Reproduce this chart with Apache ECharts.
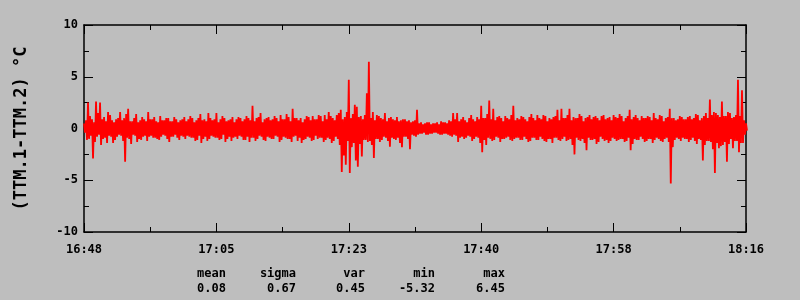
<!DOCTYPE html>
<html>
<head>
<meta charset="utf-8">
<script src="https://cdn.jsdelivr.net/npm/echarts@6/dist/echarts.min.js"></script>
<style>html,body{margin:0;padding:0;background:#bebebe;}#c{width:800px;height:300px;}</style>
</head>
<body>
<div id="c"></div>
<script>
// sample spacing (seconds) from 16:48 start
const startClock = [16, 48];
const sampleSeconds = 32;
// upper envelope per sample
const hiVals = [0.5,2.5,0.9,2.6,2.5,1.1,1.6,0.8,0.9,1.6,
1.0,1.9,0.7,1.4,0.8,0.9,1.6,0.9,0.7,1.2,
0.8,1.0,0.7,0.9,0.8,1.1,0.9,1.0,0.8,1.4,
0.9,1.5,0.8,1.5,0.9,1.0,0.8,1.1,0.9,1.0,
0.9,1.0,2.2,1.0,1.5,0.9,1.1,0.9,1.0,1.3,
0.9,1.1,1.9,1.0,1.0,0.9,1.1,1.2,0.9,1.2,
1.3,1.6,1.0,1.3,1.8,1.1,4.7,1.4,2.1,1.2,
1.3,6.45,1.6,1.3,1.0,1.5,1.0,0.9,1.1,0.8,
0.9,0.8,0.7,1.8,0.6,0.5,0.6,0.5,0.6,0.7,
0.6,0.8,1.5,1.5,0.9,0.8,1.0,0.9,1.1,2.2,
1.0,2.7,1.9,1.1,1.0,1.2,0.9,2.2,1.0,1.2,
0.9,1.1,1.0,1.3,0.9,1.2,1.0,1.1,1.8,1.9,
1.0,1.9,1.1,1.0,1.2,1.0,1.3,1.1,1.0,1.2,
0.9,1.1,1.3,1.0,1.2,1.0,1.8,1.1,1.0,1.2,
1.0,1.1,1.5,0.9,1.2,1.0,1.9,1.0,0.9,1.1,
0.9,1.2,1.0,1.3,1.0,1.5,2.8,1.6,1.3,2.6,
1.2,1.5,1.1,4.7,3.7,0.5];
// lower envelope per sample
const loVals = [-0.4,-1.0,-2.9,-0.8,-1.6,-0.9,-0.7,-1.4,-0.8,-0.7,
-3.2,-1.0,-0.6,-1.3,-1.1,-0.7,-0.8,-0.9,-1.0,-0.8,
-0.7,-1.3,-0.8,-0.9,-0.7,-1.0,-0.8,-0.9,-1.1,-1.4,
-0.8,-1.0,-0.8,-0.9,-1.0,-1.3,-0.8,-0.9,-1.0,-0.8,
-1.1,-1.3,-0.9,-1.0,-0.8,-1.2,-0.9,-1.0,-0.8,-1.1,
-0.9,-1.0,-0.8,-1.2,-1.4,-1.0,-0.9,-1.1,-1.0,-0.9,
-1.1,-1.0,-1.2,-1.0,-4.2,-3.5,-4.3,-1.4,-3.7,-2.7,
-1.1,-1.2,-2.85,-1.0,-1.1,-0.9,-1.75,-1.0,-0.9,-1.8,
-0.8,-2.0,-0.7,-0.6,-0.5,-0.6,-0.5,-0.4,-0.5,-0.6,
-0.5,-0.7,-0.6,-1.3,-0.8,-0.9,-0.8,-1.0,-0.9,-2.3,
-1.6,-1.0,-1.1,-0.9,-1.0,-0.9,-1.1,-1.0,-0.9,-1.1,
-1.0,-1.2,-0.9,-1.1,-1.0,-1.3,-1.0,-0.9,-1.1,-1.0,
-1.2,-1.0,-2.5,-1.1,-1.0,-2.1,-1.1,-1.0,-1.3,-1.0,
-1.1,-1.2,-1.0,-1.1,-1.0,-1.2,-2.1,-1.0,-1.1,-1.0,
-1.2,-1.0,-1.1,-1.0,-1.3,-0.9,-5.32,-1.1,-1.0,-0.9,
-1.0,-1.1,-1.2,-1.0,-3.1,-1.2,-1.3,-4.3,-1.9,-1.6,
-3.2,-1.0,-1.2,-2.3,-1.4,-0.2];
// upper / lower readings halfway between consecutive samples
const midHi = [0.8,1.2,0.6,1.5,0.9,0.7,1.3,0.6,1.0,0.8,
1.4,0.7,1.0,0.6,1.1,0.7,0.9,1.1,0.6,0.8,
1.0,0.7,1.1,0.6,0.9,0.7,1.2,0.6,1.0,0.8,
0.7,1.0,0.9,0.6,1.2,0.7,0.9,0.6,1.1,0.7,
1.2,0.8,0.7,1.1,0.6,1.0,0.8,1.2,0.7,0.9,
1.4,0.7,1.0,0.8,0.6,1.2,0.8,0.9,1.3,0.7,
0.9,1.2,0.8,1.5,0.9,1.6,1.0,2.3,1.1,0.9,
3.4,1.0,0.8,1.2,0.9,0.7,1.1,0.8,0.7,0.9,
0.7,0.6,0.8,0.5,0.4,0.6,0.4,0.5,0.4,0.6,
0.5,0.7,0.9,0.7,1.1,0.6,1.3,0.7,0.9,1.0,
1.4,0.9,0.8,1.2,0.7,1.0,1.3,0.8,0.9,1.1,
0.7,1.4,0.8,1.0,1.3,0.7,0.9,1.2,0.8,1.0,
1.3,0.8,1.0,1.4,0.7,1.1,0.9,1.2,0.8,1.3,
1.0,0.8,1.1,1.4,0.7,1.2,0.9,1.3,0.8,1.0,
1.2,0.8,1.0,1.3,0.7,1.1,1.0,0.8,1.2,0.9,
1.1,0.9,1.4,0.8,1.2,1.0,1.3,1.5,1.1,1.2,
1.6,1.0,1.3,1.2,0.8];
const midLo = [-1.1,-0.7,-1.3,-0.6,-1.0,-1.4,-0.8,-1.1,-0.6,-1.2,
-0.9,-1.5,-0.7,-1.0,-0.8,-1.2,-0.7,-0.9,-1.1,-0.6,
-1.0,-0.8,-0.6,-1.1,-0.8,-0.7,-0.9,-1.2,-0.7,-1.0,
-1.2,-0.7,-0.9,-1.1,-0.6,-1.0,-1.2,-0.8,-0.7,-1.1,
-0.8,-0.9,-1.2,-0.7,-1.1,-0.8,-1.0,-0.7,-1.3,-0.8,
-1.0,-1.3,-0.7,-0.9,-1.1,-0.8,-1.2,-0.7,-0.9,-1.3,
-0.9,-1.4,-0.8,-1.6,-2.6,-1.2,-1.8,-3.1,-1.5,-1.1,
-1.3,-1.6,-1.0,-1.3,-0.8,-1.2,-0.9,-1.1,-1.4,-0.8,
-1.0,-0.6,-0.8,-0.5,-0.4,-0.6,-0.5,-0.4,-0.6,-0.5,
-0.6,-0.8,-0.7,-0.9,-1.0,-0.7,-1.2,-0.8,-1.4,-1.1,
-0.9,-1.2,-0.8,-1.3,-1.0,-0.8,-1.2,-0.9,-1.1,-0.8,
-1.3,-0.9,-1.1,-0.8,-1.2,-1.0,-1.4,-0.9,-1.2,-0.8,
-1.1,-1.6,-0.9,-1.2,-1.4,-0.9,-1.1,-1.5,-0.8,-1.2,
-1.4,-0.9,-1.2,-1.0,-1.3,-0.9,-1.5,-1.1,-0.8,-1.3,
-1.0,-1.4,-0.9,-1.2,-1.0,-1.3,-1.8,-0.9,-1.2,-1.0,
-1.3,-0.9,-1.5,-1.1,-1.6,-1.2,-2.0,-1.4,-1.7,-1.3,
-1.5,-1.9,-1.2,-1.4,-0.6];
const yTicks = [-10, -5, 0, 5, 10];
const statNames = ['mean', 'sigma', 'var', 'min', 'max'];
const statValues = ['0.08', '0.67', '0.45', '-5.32', '6.45'];
const yName = '(TTM.1-TTM.2) \u00b0C';

const series = [];
const q = sampleSeconds / 60 / 4;
for (let i = 0; i < hiVals.length; i++) {
  const t = i * sampleSeconds / 60;
  series.push([t, hiVals[i]]);
  series.push([t + q, loVals[i]]);
  if (i < midHi.length) {
    series.push([t + 2 * q, midHi[i]]);
    series.push([t + 3 * q, midLo[i]]);
  }
}
const totalMin = (hiVals.length - 1) * sampleSeconds / 60;

function clock(v) {
  const m = Math.floor(startClock[0] * 60 + startClock[1] + v + 1e-6);
  const h = Math.floor(m / 60), mm = m % 60;
  return h + ':' + (mm < 10 ? '0' : '') + mm;
}

const FONT = 'DejaVu Sans Mono';
const chart = echarts.init(document.getElementById('c'), null, {renderer: 'canvas'});
const axisLine = {show: true, onZero: false, lineStyle: {color: '#000', width: 1.5}};
const xBase = {
  type: 'value', min: 0, max: totalMin, interval: totalMin / 5,
  axisLine: axisLine,
  axisTick: {show: true, inside: true, length: 9, lineStyle: {color: '#000', width: 1}},
  minorTick: {show: true, splitNumber: 2, length: 5, lineStyle: {color: '#000', width: 1}},
  splitLine: {show: false}, minorSplitLine: {show: false}
};
const yBase = {
  type: 'value', min: yTicks[0], max: yTicks[yTicks.length - 1], interval: 5,
  axisLine: axisLine,
  axisTick: {show: true, inside: true, length: 9, lineStyle: {color: '#000', width: 1}},
  minorTick: {show: true, splitNumber: 2, length: 5, lineStyle: {color: '#000', width: 1}},
  splitLine: {show: false}, minorSplitLine: {show: false}
};

const graphics = [];
const colRight = [226, 296, 365, 435, 505];
statNames.forEach((n, k) => {
  graphics.push({type: 'text', right: 800 - colRight[k], top: 268,
    style: {text: n, font: 'bold 12px ' + FONT, fill: '#000', textAlign: 'right'}});
  graphics.push({type: 'text', right: 800 - colRight[k], top: 283,
    style: {text: statValues[k], font: 'bold 12px ' + FONT, fill: '#000', textAlign: 'right'}});
});

chart.setOption({
  backgroundColor: '#bebebe',
  animation: false,
  grid: {left: 84, right: 54, top: 25, bottom: 68, containLabel: false},
  xAxis: [
    Object.assign({}, xBase, {position: 'bottom',
      axisLabel: {show: true, margin: 12, color: '#000', fontFamily: FONT, fontWeight: 'bold', fontSize: 12,
        formatter: clock, showMinLabel: true, showMaxLabel: true}}),
    Object.assign({}, xBase, {position: 'top', axisLabel: {show: false}})
  ],
  yAxis: [
    Object.assign({}, yBase, {position: 'left',
      name: yName, nameLocation: 'middle', nameGap: 54, nameRotate: 90,
      nameTextStyle: {color: '#000', fontFamily: FONT, fontWeight: 'bold', fontSize: 17},
      axisLabel: {show: true, margin: 6, color: '#000', fontFamily: FONT, fontWeight: 'bold', fontSize: 12}}),
    Object.assign({}, yBase, {position: 'right', axisLabel: {show: false}})
  ],
  series: [{
    type: 'line', data: series, xAxisIndex: 0, yAxisIndex: 0,
    showSymbol: false, symbol: 'none', clip: true, sampling: false,
    lineStyle: {color: '#ff0000', width: 1.8, join: 'miter', miterLimit: 2}, itemStyle: {color: '#ff0000'}
  }],
  graphic: graphics
});
</script>
</body>
</html>
